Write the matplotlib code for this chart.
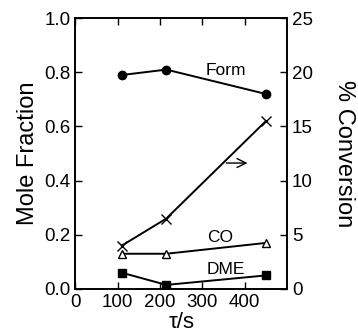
import matplotlib
matplotlib.use("Agg")
import matplotlib.pyplot as plt

plt.rcParams['font.family'] = ['Liberation Sans', 'DejaVu Sans']

# residence time tau / s
tau = [110, 215, 450]
# mole fractions
form = [0.79, 0.81, 0.72]
co = [0.13, 0.13, 0.17]
dme = [0.06, 0.015, 0.05]
# % conversion (right axis)
conversion = [4.0, 6.5, 15.5]

fig = plt.figure(figsize=(3.58, 3.36), dpi=100)
ax = fig.add_axes([0.21, 0.14, 0.592, 0.806])

ax.plot(tau, form, 'k-', marker='o', ms=6, lw=1.4)
ax.plot(tau, co, 'k-', marker='^', ms=6, mfc='white', lw=1.4)
ax.plot(tau, dme, 'k-', marker='s', ms=6, lw=1.4)

ax.set_xlim(0, 500)
ax.set_ylim(0, 1.0)
ax.set_xticks([0, 100, 200, 300, 400])
ax.set_yticks([0.0, 0.2, 0.4, 0.6, 0.8, 1.0])
ax.set_yticklabels(['0.0', '0.2', '0.4', '0.6', '0.8', '1.0'])
ax.tick_params(direction='in', length=5, width=1, labelsize=13.5, top=True)
ax.set_ylabel('Mole Fraction', fontsize=17, labelpad=4)
ax.set_xlabel('τ/s', fontsize=16, labelpad=1)

ax2 = ax.twinx()
ax2.plot(tau, conversion, 'k-', marker='x', ms=7, lw=1.4)
ax2.set_ylim(0, 25)
ax2.set_yticks([0, 5, 10, 15, 20, 25])
ax2.tick_params(direction='in', length=5, width=1, labelsize=13.5)
ax2.set_ylabel('% Conversion', fontsize=17, rotation=-90, labelpad=30)

for a in (ax, ax2):
    for s in a.spines.values():
        s.set_linewidth(1.2)

ax.text(307, 0.79, 'Form', fontsize=12.5)
ax.text(311, 0.175, 'CO', fontsize=12.5)
ax.text(311, 0.055, 'DME', fontsize=12.5)
ax.annotate('', xy=(413, 0.465), xytext=(350, 0.465),
            arrowprops=dict(arrowstyle='->', lw=1.0, color='k',
                            mutation_scale=16))

fig.savefig('out.png', dpi=100)
